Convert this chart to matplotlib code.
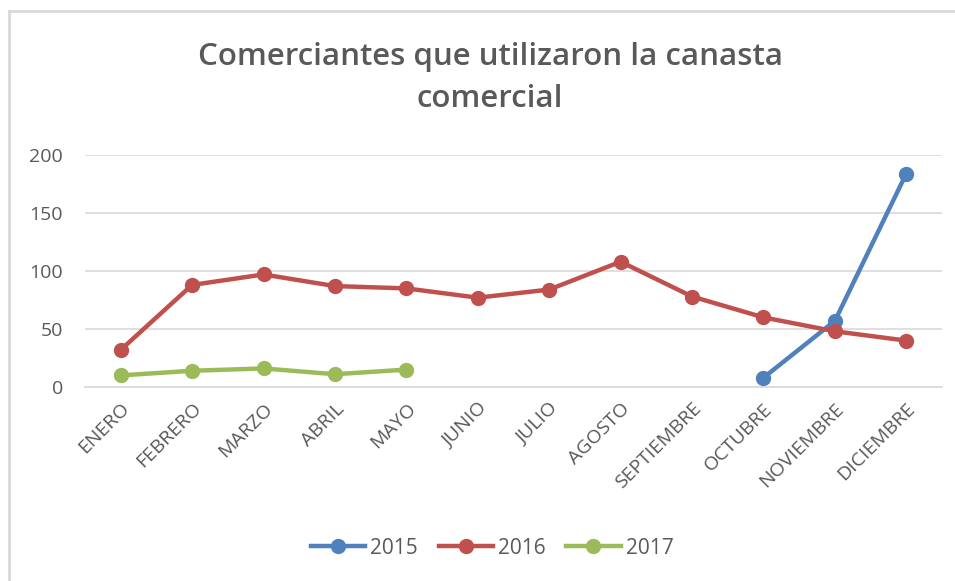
import matplotlib
matplotlib.use("Agg")
import matplotlib.pyplot as plt
import numpy as np
from matplotlib.lines import Line2D

months = ["ENERO", "FEBRERO", "MARZO", "ABRIL", "MAYO", "JUNIO", "JULIO",
          "AGOSTO", "SEPTIEMBRE", "OCTUBRE", "NOVIEMBRE", "DICIEMBRE"]
s2015 = [None, None, None, None, None, None, None, None, None, 8, 57, 184]
s2016 = [32, 88, 97, 87, 85, 77, 84, 108, 78, 60, 48, 40]
s2017 = [10, 14, 16, 11, 15, None, None, None, None, None, None, None]
series_names = ["2015", "2016", "2017"]
colors = ["#4F81BD", "#C0504D", "#9BBB59"]
yticks = [0, 50, 100, 150, 200]

plt.rcParams['font.family'] = ['Open Sans', 'DejaVu Sans']

W, H = 955, 581
fig = plt.figure(figsize=(W / 100, H / 100), dpi=100)
ax = fig.add_axes([85 / W, 1 - 387 / H, (942 - 85) / W, (387 - 155) / H])

x = np.arange(len(months))
for name, vals, c in zip(series_names, [s2015, s2016, s2017], colors):
    v = np.array([np.nan if t is None else t for t in vals], dtype=float)
    ax.plot(x, v, color=c, lw=3.2, marker='o', ms=10, label=name,
            solid_capstyle='round', zorder=3)

ax.set_xlim(-0.5, len(months) - 0.5)
ax.set_ylim(0, 200)
ax.set_yticks(yticks)
ax.set_yticklabels([str(t) for t in yticks], fontsize=14, color='#595959')
ax.set_xticks(x)
ax.set_xticklabels(months, rotation=45, ha='right', rotation_mode='anchor',
                   fontsize=14, color='#595959')
ax.tick_params(axis='both', length=0)
ax.tick_params(axis='y', pad=16)
ax.tick_params(axis='x', pad=9)
ax.grid(axis='y', color='#D9D9D9', lw=1.2)
ax.set_axisbelow(True)
for s in ['top', 'right', 'left']:
    ax.spines[s].set_visible(False)
ax.spines['bottom'].set_color('#D9D9D9')
ax.spines['bottom'].set_linewidth(1.2)

fig.text(490 / W, 1 - 78 / H, "Comerciantes que utilizaron la canasta\ncomercial",
         ha='center', va='center', fontsize=22.5, fontweight='semibold',
         color='#595959', linespacing=1.55)

handles = [Line2D([], [], color=c, lw=3.2, marker='o', ms=10) for c in colors]
fig.legend(handles, series_names, loc='center', bbox_to_anchor=(492 / W, 1 - 548 / H),
           ncol=3, frameon=False, fontsize=15, labelcolor='#595959',
           handlelength=2.6, columnspacing=1.0, handletextpad=0.25)

# chart border (top and left visible)
fig.add_artist(Line2D([9 / W, 1], [1 - 11 / H, 1 - 11 / H], color='#D9D9D9', lw=2,
                      transform=fig.transFigure))
fig.add_artist(Line2D([9 / W, 9 / W], [0, 1 - 11 / H], color='#D9D9D9', lw=2,
                      transform=fig.transFigure))

fig.savefig("out.png", dpi=100, facecolor='white')
